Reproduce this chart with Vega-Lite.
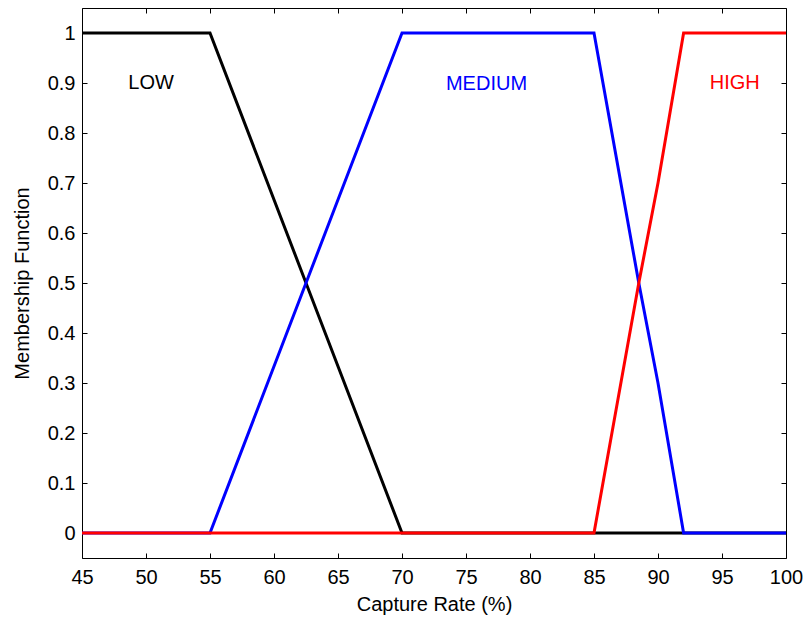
{
  "$schema": "https://vega.github.io/schema/vega-lite/v6.json",
  "width": 704,
  "height": 550,
  "autosize": {"type": "none"},
  "padding": {"left": 82, "top": 8, "right": 18, "bottom": 62},
  "background": "white",
  "config": {
    "view": {"stroke": null},
    "font": "Liberation Sans",
    "axis": {
      "grid": false,
      "domainColor": "black",
      "domainWidth": 1,
      "tickColor": "black",
      "tickSize": -5,
      "labelFont": "Liberation Sans",
      "labelFontSize": 20,
      "labelColor": "black",
      "titleFont": "Liberation Sans",
      "titleFontSize": 20,
      "titleFontWeight": "normal",
      "titleColor": "black"
    }
  },
  "datasets": {
    "curves": [
      {"series": "LOW", "x": 45, "y": 1},
      {"series": "LOW", "x": 55, "y": 1},
      {"series": "LOW", "x": 62.5, "y": 0.5},
      {"series": "LOW", "x": 64, "y": 0.4},
      {"series": "LOW", "x": 70, "y": 0},
      {"series": "LOW", "x": 100, "y": 0},
      {"series": "MEDIUM", "x": 45, "y": 0},
      {"series": "MEDIUM", "x": 55, "y": 0},
      {"series": "MEDIUM", "x": 62.5, "y": 0.5},
      {"series": "MEDIUM", "x": 64, "y": 0.6},
      {"series": "MEDIUM", "x": 70, "y": 1},
      {"series": "MEDIUM", "x": 85, "y": 1},
      {"series": "MEDIUM", "x": 88.5, "y": 0.5},
      {"series": "MEDIUM", "x": 90, "y": 0.3},
      {"series": "MEDIUM", "x": 92, "y": 0},
      {"series": "MEDIUM", "x": 100, "y": 0},
      {"series": "HIGH", "x": 45, "y": 0},
      {"series": "HIGH", "x": 85, "y": 0},
      {"series": "HIGH", "x": 88.5, "y": 0.5},
      {"series": "HIGH", "x": 90, "y": 0.7},
      {"series": "HIGH", "x": 92, "y": 1},
      {"series": "HIGH", "x": 100, "y": 1}
    ],
    "labels": [
      {"label": "LOW", "x": 50.4, "y": 0.9},
      {"label": "MEDIUM", "x": 76.6, "y": 0.898},
      {"label": "HIGH", "x": 96.0, "y": 0.9}
    ]
  },
  "layer": [
    {
      "data": {"name": "curves"},
      "transform": [{"filter": "datum.series === 'LOW'"}],
      "mark": {"type": "line", "color": "black", "strokeWidth": 3, "clip": true},
      "encoding": {
        "x": {
          "field": "x", "type": "quantitative",
          "scale": {"domain": [45, 100], "nice": false, "zero": false},
          "axis": {"orient": "bottom", "values": [45,50,55,60,65,70,75,80,85,90,95,100], "labelPadding": 14, "title": "Capture Rate (%)", "titlePadding": 7, "labelFlush": false}
        },
        "y": {
          "field": "y", "type": "quantitative",
          "scale": {"domain": [-0.05, 1.05], "nice": false, "zero": false},
          "axis": {"orient": "left", "values": [0,0.1,0.2,0.3,0.4,0.5,0.6,0.7,0.8,0.9,1], "format": ".1~f", "labelPadding": 12, "title": "Membership Function", "titlePadding": 15}
        }
      }
    },
    {
      "data": {"name": "curves"},
      "transform": [{"filter": "datum.series === 'MEDIUM'"}],
      "mark": {"type": "line", "color": "#0000ff", "strokeWidth": 3, "clip": true},
      "encoding": {
        "x": {"field": "x", "type": "quantitative", "axis": null},
        "y": {"field": "y", "type": "quantitative", "axis": null}
      }
    },
    {
      "data": {"name": "curves"},
      "transform": [{"filter": "datum.series === 'HIGH'"}],
      "mark": {"type": "line", "color": "#ff0000", "strokeWidth": 3, "clip": true},
      "encoding": {
        "x": {"field": "x", "type": "quantitative", "axis": null},
        "y": {"field": "y", "type": "quantitative", "axis": null}
      }
    },
    {
      "data": {"name": "labels"},
      "mark": {"type": "text", "fontSize": 20, "font": "Liberation Sans", "baseline": "middle", "align": "center"},
      "encoding": {
        "x": {"field": "x", "type": "quantitative",
          "axis": {"orient": "top", "values": [45,50,55,60,65,70,75,80,85,90,95,100], "labels": false, "title": null}},
        "y": {"field": "y", "type": "quantitative",
          "axis": {"orient": "right", "values": [0,0.1,0.2,0.3,0.4,0.5,0.6,0.7,0.8,0.9,1], "labels": false, "title": null}},
        "text": {"field": "label"},
        "color": {"field": "label", "type": "nominal",
          "scale": {"domain": ["LOW", "MEDIUM", "HIGH"], "range": ["black", "#0000ff", "#ff0000"]},
          "legend": null}
      }
    }
  ]
}
